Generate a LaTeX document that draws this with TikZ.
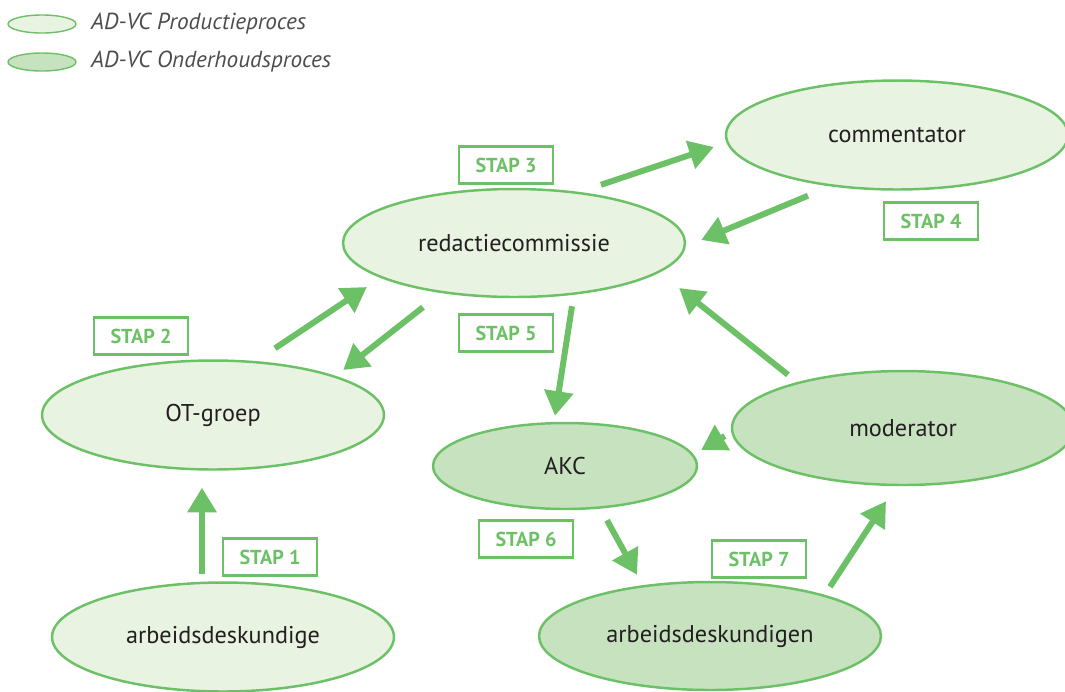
\documentclass[tikz,border=0pt]{standalone}
\usepackage{fontspec}
\setmainfont{PT Sans}
\usetikzlibrary{arrows.meta,shapes.geometric,calc}
\definecolor{stapgreen}{HTML}{6CC066}
\definecolor{prodfill}{HTML}{E8F3E2}
\definecolor{onderfill}{HTML}{C6E2BF}
\definecolor{tekst}{HTML}{231F20}
\tikzset{
  proces/.style={ellipse, draw=stapgreen, line width=1.4pt, inner sep=0pt, minimum width=6.84cm, minimum height=2.18cm, font=\fontsize{13.8}{16}\selectfont, text=tekst},
  prod/.style={proces, fill=prodfill},
  onder/.style={proces, fill=onderfill},
  stapbox/.style={draw=stapgreen, line width=1.6pt, minimum width=1.88cm, minimum height=0.74cm, inner sep=0pt, text=stapgreen, font=\bfseries\fontsize{11.5}{14}\selectfont},
  pijl/.style={-{Triangle[length=14pt,width=16pt]}, line width=3.4pt, draw=stapgreen},
  legenda/.style={ellipse, draw=stapgreen, line width=0.8pt, minimum width=1.36cm, minimum height=0.36cm, inner sep=0pt},
  legtekst/.style={anchor=west, font=\itshape\fontsize{13.2}{15}\selectfont, text=black!70},
}
\begin{document}
\begin{tikzpicture}[x=0.02cm, y=-0.02cm]
  \useasboundingbox (0,0) rectangle (1065,691);
  \clip (0,0) rectangle (1065,691);
  % legend
  \node[legenda, fill=prodfill] (legprod) at (42,24) {};
  \node[legtekst] (legprodtxt) at (85,24) {AD-VC Productieproces};
  \node[legenda, fill=onderfill] (legonder) at (42,62) {};
  \node[legtekst] (legondertxt) at (85,62) {AD-VC Onderhoudsproces};
  % processes
  \node[prod] (comm) at (897,135) {commentator};
  \node[prod, minimum height=2.16cm] (redac) at (514,243) {redactiecommissie};
  \node[prod] (ot) at (213,415) {OT-groep};
  \node[onder, minimum width=5.28cm, minimum height=1.72cm] (akc) at (565,466) {AKC};
  \node[onder, minimum height=2.28cm] (mod) at (903,428) {moderator};
  \node[prod] (ad) at (223,637) {arbeidsdeskundige};
  \node[onder, minimum height=2.16cm] (adn) at (710,636) {arbeidsdeskundigen};
  % steps
  \node[stapbox] (stap1) at (270,557) {STAP 1};
  \node[stapbox] (stap2) at (141,336) {STAP 2};
  \node[stapbox] (stap3) at (506,165) {STAP 3};
  \node[stapbox] (stap4) at (931,221) {STAP 4};
  \node[stapbox] (stap5) at (506,333) {STAP 5};
  \node[stapbox] (stap6) at (526,539) {STAP 6};
  \node[stapbox] (stap7) at (759,559) {STAP 7};
  % arrows
  \draw[pijl] ($(ad.north)+(-21,-7)$) -- ($(ot.south)+(-11,17)$);
  \draw[pijl] ($(ot.north)+(62,-11)$) -- ($(redac.west)+(25,44)$);
  \draw[pijl] ($(redac.south)+(-91,9)$) -- ($(ot.east)+(-42,-45)$);
  \draw[pijl] ($(redac.north)+(87,-3)$) -- ($(comm.west)+(-11,12)$);
  \draw[pijl] ($(comm.south)+(-89,5)$) -- ($(redac.east)+(15,-3)$);
  \draw[pijl] ($(redac.south)+(58,8)$) -- ($(akc.north)+(-10,-6)$);
  \draw[pijl] ($(mod.north)+(-115,5)$) -- ($(redac.east)+(-7,45)$);
  \draw[pijl] ($(mod.west)+(-6,8)$) -- ($(akc.east)+(3,-16)$);
  \draw[pijl] ($(akc.south)+(42,10)$) -- ($(adn.north)+(-73,-6)$);
  \draw[pijl] ($(adn.north)+(120,6)$) -- ($(mod.south)+(-17,15)$);
\end{tikzpicture}
\end{document}
